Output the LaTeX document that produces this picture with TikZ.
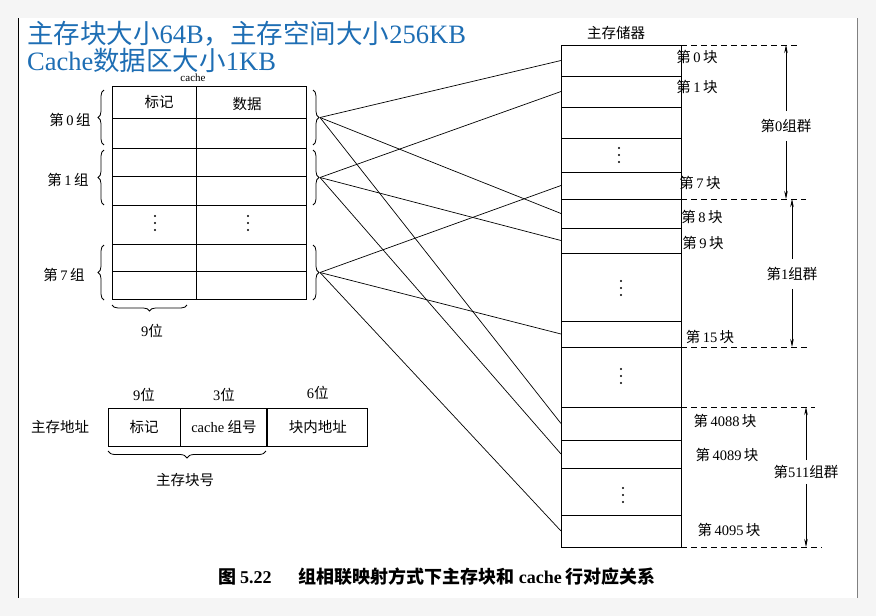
\documentclass[tikz,border=0pt]{standalone}
\usepackage{fontspec}
\setmainfont{Noto Sans CJK SC}
\newfontfamily\latin{Liberation Serif}
\usetikzlibrary{arrows.meta,positioning,decorations.pathreplacing}
\definecolor{titleblue}{RGB}{30,110,180}
\newcommand{\en}[1]{{\latin #1}}

\begin{document}
\begin{tikzpicture}[x=1pt,y=-1pt,
  txt/.style={font=\fontsize{14.5}{16}\selectfont},
  brc/.style={decorate,decoration={brace,amplitude=6pt},line width=0.8pt},
  cachegrid/.style={line width=0.9pt},
  maplink/.style={line width=0.7pt},
  fld/.style={draw,line width=0.9pt,minimum height=38pt,inner sep=0pt,font=\fontsize{14.5}{16}\selectfont},
  dimarrow/.style={-{Stealth[length=8pt,width=3.5pt]},line width=0.7pt},
  grplbl/.style={txt,inner ysep=8pt},
  dashsep/.style={dash pattern=on 6pt off 4pt,line width=0.8pt}]
  % page
  \useasboundingbox (0,0) rectangle (876,616);
  \fill[gray!8] (0,0) rectangle (876,616);
  \fill[white] (18,18) rectangle (857,598);
  \draw[line width=1.5pt] (18.5,18) -- (18.5,598);
  \draw[gray,line width=1pt] (857,18) -- (857,598);

  % title
  \node[anchor=west,inner sep=0pt,align=left,text=titleblue,font=\fontsize{26.5}{26.5}\selectfont] (title) at (27,47)
    {主存块大小\en{64B}，主存空间大小\en{256KB}\\\en{Cache}数据区大小\en{1KB}};

  % cache
  \node[font=\fontsize{11}{12}\selectfont,inner sep=1pt] (cachelbl) at (193,78) {\en{cache}};
  \draw[cachegrid] (112,86) rectangle (306,299);
  \draw[cachegrid] (196,86) -- (196,299);
  \foreach \y in {118,148,176,205,244,271}
    \draw[cachegrid] (112,\y) -- (306,\y);
  \node[txt] (hdtag) at (159,102) {标记};
  \node[txt] (hddata) at (247,104) {数据};

  \foreach \g/\a/\b/\xl in {0/90/145/70,1/150/205/68,7/245/300/64}{
    \draw[brc] (104,\b) -- (104,\a);
    \draw[brc] (313,\a) -- (313,\b);
    \node[txt] (grp\g) at (\xl,{(\a+\b)/2+2}) {第\,\en{\g}\,组};
    \coordinate (g\g) at (320,{(\a+\b)/2});
  }
  \draw[brc] (187,305) -- (112,305);
  \node[txt] (tagbits) at (152,331) {\en{9}位};

  % main memory
  \node[txt] (memlbl) at (616,33) {主存储器};
  \draw[cachegrid] (561,45) rectangle (681,547);
  \foreach \y in {76,107,138,172,199,228,253,321,347,407,440,468,515}
    \draw[cachegrid] (561,\y) -- (681,\y);
  \foreach \n/\y in {0/60.5,1/91.5,7/185.5,8/213.5,9/240.5,15/334,4088/423.5,4089/454,4095/531}
    \coordinate (b\n) at (561,\y);
  \foreach \n/\x/\y in {0/697/57,1/697/87,7/700/183,8/702/217,9/703/243,15/710/337,4088/725/421,4089/727/455,4095/729/530}
    \node[txt] (blk\n) at (\x,\y) {第\,\en{\n}\,块};

  % vertical dots
  \foreach \x/\y in {155/223,248/223,619/155,621/288,621/376,623/495}
    \foreach \d in {-7,0,7}
      \fill (\x,\y+\d) circle (1.2pt);

  % mapping
  \foreach \g/\n in {0/0,0/8,0/4088,1/1,1/9,1/4089,7/7,7/15,7/4095}
    \draw[maplink] (g\g) -- (b\n);

  % group ranges
  \draw[dashsep] (681,45) -- (797,45);
  \draw[dashsep] (681,199) -- (806,199);
  \draw[dashsep] (681,347) -- (810,347);
  \draw[dashsep] (681,407) -- (815,407);
  \draw[dashsep] (681,547) -- (822,547);
  \node[grplbl] (set0) at (786,126) {第\en{0}组群};
  \node[grplbl] (set1) at (792,274) {第\en{1}组群};
  \node[grplbl,inner ysep=5pt] (set511) at (806,472) {第\en{511}组群};
  \draw[dimarrow] (set0) -- (786,45);
  \draw[dimarrow] (set0) -- (786,199);
  \draw[dimarrow] (set1) -- (792,199);
  \draw[dimarrow] (set1) -- (792,347);
  \draw[dimarrow] (set511) -- (806,407);
  \draw[dimarrow] (set511) -- (806,547);

  % address format
  \node[txt] (addr) at (60,427) {主存地址};
  \node[fld,minimum width=72pt] (ftag) at (144,427) {标记};
  \node[fld,minimum width=86pt,right=0pt of ftag] (fset) {\en{cache} 组号};
  \node[fld,minimum width=100pt,right=0pt of fset] (foff) {块内地址};
  \node[txt,above=2pt of ftag] (btag) {\en{9}位};
  \node[txt,above=2pt of fset] (bset) {\en{3}位};
  \node[txt,above=4pt of foff] (boff) {\en{6}位};
  \draw[brc,decoration={amplitude=7pt}] (266,451) -- (108,451);
  \node[txt] (blkno) at (185,480) {主存块号};

  % caption
  \node[font=\fontsize{18}{20}\selectfont\bfseries] (cap) at (437,577) {图 \en{5.22}\hspace{1.5em}组相联映射方式下主存块和 \en{cache} 行对应关系};
\end{tikzpicture}
\end{document}
